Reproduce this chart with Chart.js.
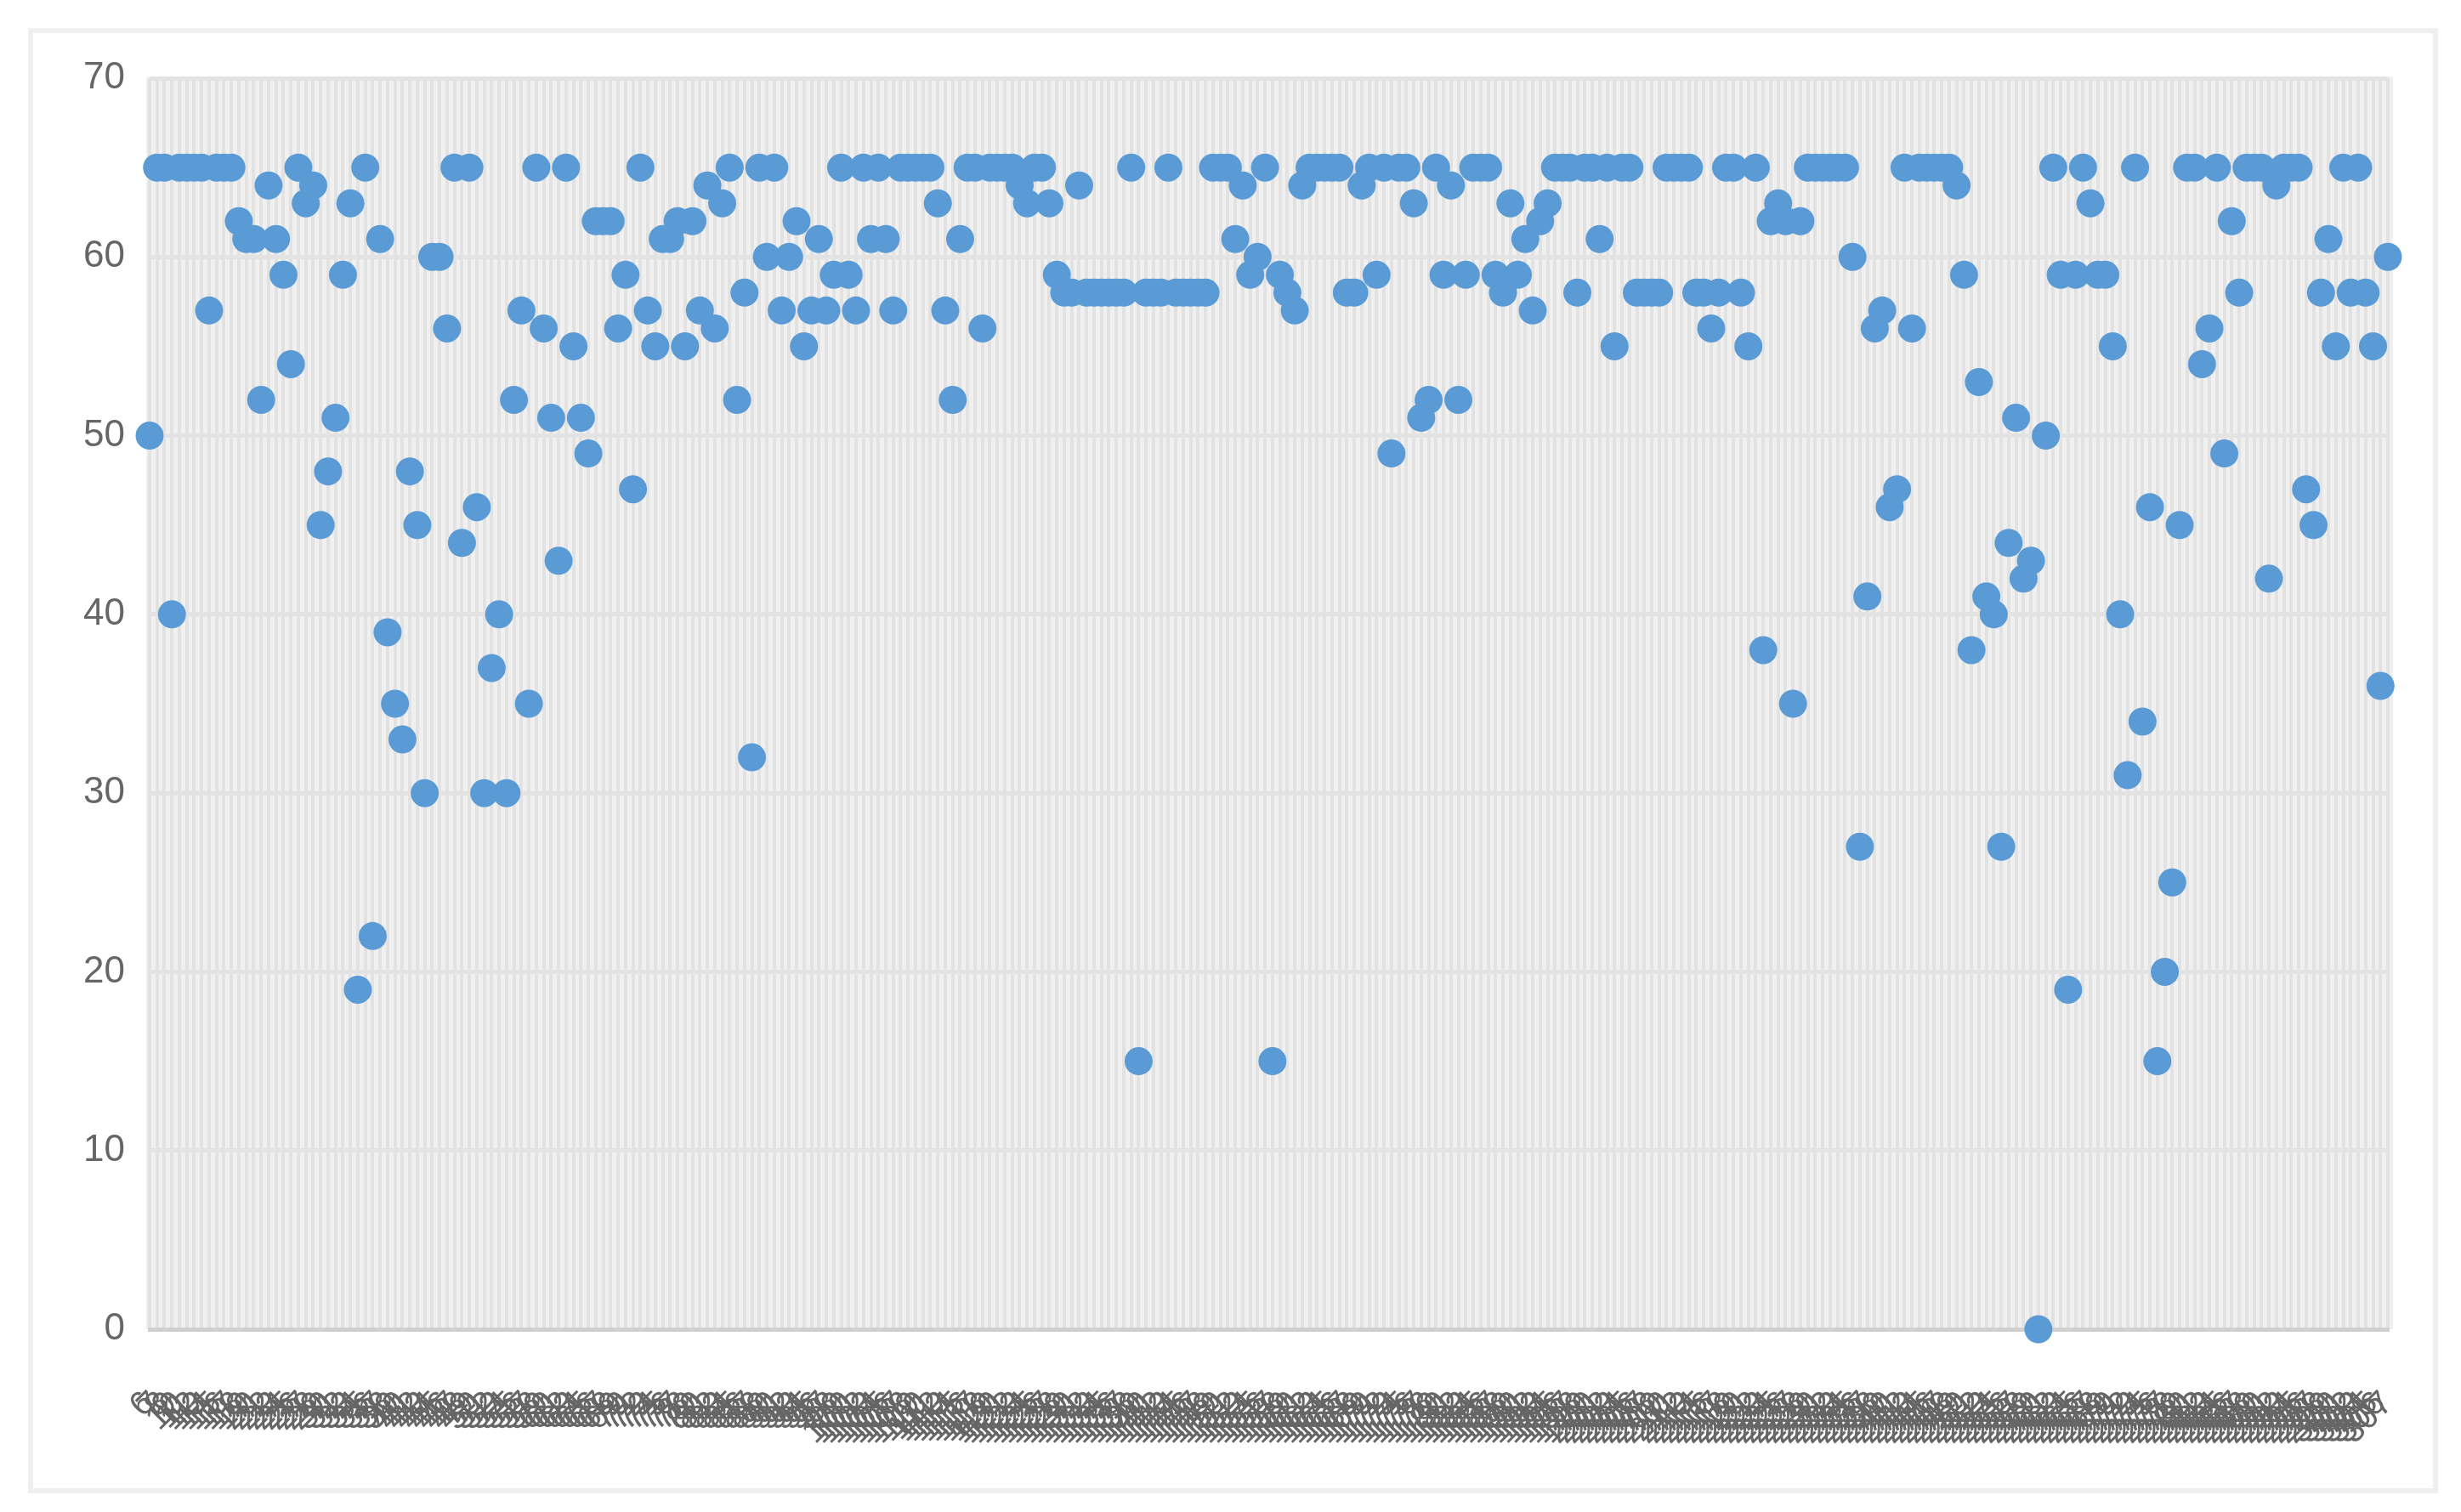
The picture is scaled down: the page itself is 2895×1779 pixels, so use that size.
<!DOCTYPE html>
<html>
<head>
<meta charset="utf-8">
<script src="https://cdn.jsdelivr.net/npm/chart.js@4/dist/chart.umd.min.js"></script>
<style>
html,body{margin:0;padding:0;background:#fff;}
body{width:2895px;height:1779px;position:relative;overflow:hidden;}
#frame{position:absolute;left:33px;top:33px;width:2823px;height:1712px;border:6px solid #efefef;}
#c{position:absolute;left:0;top:0;}
</style>
</head>
<body>
<div id="frame"></div>
<canvas id="c" width="2895" height="1779"></canvas>
<script>
// Series values, one per category
const values = [
  50,65,65,40,65,65,65,65,57,65, 65,65,62,61,61,52,64,61,59,54,
  65,63,64,45,48,51,59,63,19,65, 22,61,39,35,33,48,45,30,60,60,
  56,65,44,65,46,30,37,40,30,52, 57,35,65,56,51,43,65,55,51,49,
  62,62,62,56,59,47,65,57,55,61, 61,62,55,62,57,64,56,63,65,52,
  58,32,65,60,65,57,60,62,55,57, 61,57,59,65,59,57,65,61,65,61,
  57,65,65,65,65,65,63,57,52,61, 65,65,56,65,65,65,65,64,63,65,
  65,63,59,58,58,64,58,58,58,58, 58,58,65,15,58,58,58,65,58,58,
  58,58,58,65,65,65,61,64,59,60, 65,15,59,58,57,64,65,65,65,65,
  65,58,58,64,65,59,65,49,65,65, 63,51,52,65,59,64,52,59,65,65,
  65,59,58,63,59,61,57,62,63,65, 65,65,58,65,65,61,65,55,65,65,
  58,58,58,58,65,65,65,65,58,58, 56,58,65,65,58,55,65,38,62,63,
  62,35,62,65,65,65,65,65,65,60, 27,41,56,57,46,47,65,56,65,65,
  65,65,65,64,59,38,53,41,40,27, 44,51,42,43,0,50,65,59,19,59,
  65,63,59,59,55,40,31,65,34,46, 15,20,25,45,65,65,54,56,65,49,
  62,58,65,65,65,42,64,65,65,65, 47,45,58,61,55,65,58,65,58,55,
  36,60
];
// Category labels: running numbers (illegible in the reference, estimated)
const firstLabel = 6;
const categories = values.map((v, i) => String(i + firstLabel));
// Y axis range / tick step
const yMin = 0, yMax = 70, yStep = 10;

const plotBg = {
  id: 'plotBg',
  beforeDraw(chart) {
    const {ctx, chartArea: a} = chart;
    ctx.save();
    ctx.fillStyle = '#f0f0f0';
    ctx.fillRect(a.left - 4, a.top - 2, a.right - a.left + 10, a.bottom - a.top + 2);
    ctx.restore();
  }
};

new Chart(document.getElementById('c'), {
  type: 'line',
  data: {
    labels: categories,
    datasets: [{
      data: values,
      showLine: false,
      pointRadius: 16.5,
      pointHoverRadius: 16.5,
      pointBackgroundColor: '#5b9bd5',
      pointBorderWidth: 0,
      borderColor: '#5b9bd5',
      clip: false
    }]
  },
  options: {
    responsive: false,
    animation: false,
    devicePixelRatio: 1,
    layout: {padding: {top: 92, right: 86, bottom: 0, left: 0}},
    plugins: {legend: {display: false}, tooltip: {enabled: false}},
    scales: {
      x: {
        type: 'category',
        offset: false,
        grid: {color: '#e2e2e2', lineWidth: 4, drawTicks: false},
        border: {display: true, color: '#d0d0d0', width: 5},
        ticks: {
          autoSkip: false, minRotation: 45, maxRotation: 45, padding: 64,
          color: '#666666', font: {family: 'Liberation Sans', size: 40}
        },
        afterFit(s) { s.height = 215; s.paddingLeft = 0; s.paddingRight = 0; }
      },
      y: {
        min: yMin, max: yMax,
        ticks: {stepSize: yStep, padding: 29, color: '#666666',
                font: {family: 'Liberation Sans', size: 44}},
        grid: {color: '#e3e3e3', lineWidth: 5, drawTicks: false},
        border: {display: false},
        afterFit(s) { s.width = 176; s.paddingTop = 0; s.paddingBottom = 0; }
      }
    }
  },
  plugins: [plotBg]
});
</script>
</body>
</html>
